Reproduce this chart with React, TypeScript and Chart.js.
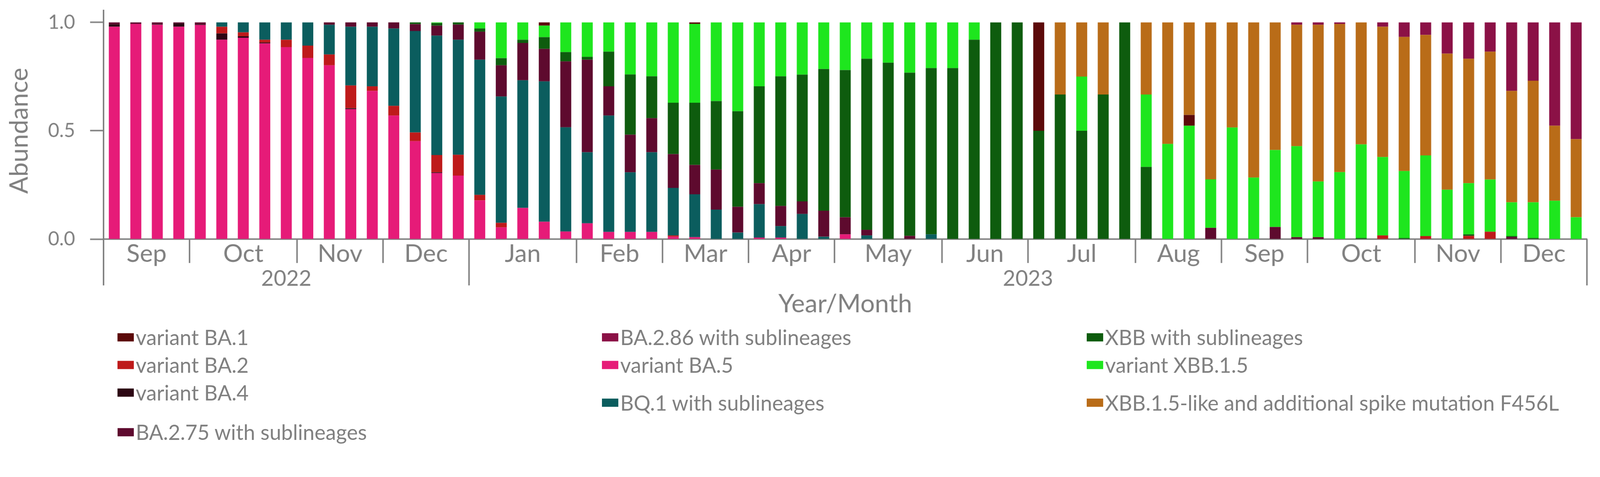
import React, { useEffect, useRef } from "react";
import { Chart, registerables } from "chart.js";

Chart.register(...registerables);

// ---------- categories (weekly samples, Monday of each week) ----------
const WEEKS: string[] = [
  "2022-09-05", "2022-09-12", "2022-09-19", "2022-09-26",
  "2022-10-03", "2022-10-10", "2022-10-17", "2022-10-24", "2022-10-31",
  "2022-11-07", "2022-11-14", "2022-11-21", "2022-11-28",
  "2022-12-05", "2022-12-12", "2022-12-19", "2022-12-26",
  "2023-01-02", "2023-01-09", "2023-01-16", "2023-01-23", "2023-01-30",
  "2023-02-06", "2023-02-13", "2023-02-20", "2023-02-27",
  "2023-03-06", "2023-03-13", "2023-03-20", "2023-03-27",
  "2023-04-03", "2023-04-10", "2023-04-17", "2023-04-24",
  "2023-05-01", "2023-05-08", "2023-05-15", "2023-05-22", "2023-05-29",
  "2023-06-05", "2023-06-12", "2023-06-19", "2023-06-26",
  "2023-07-03", "2023-07-10", "2023-07-17", "2023-07-24", "2023-07-31",
  "2023-08-07", "2023-08-14", "2023-08-21", "2023-08-28",
  "2023-09-04", "2023-09-11", "2023-09-18", "2023-09-25",
  "2023-10-02", "2023-10-09", "2023-10-16", "2023-10-23", "2023-10-30",
  "2023-11-06", "2023-11-13", "2023-11-20", "2023-11-27",
  "2023-12-04", "2023-12-11", "2023-12-18", "2023-12-25",
];

const MONTH_NAMES = ["Jan", "Feb", "Mar", "Apr", "May", "Jun", "Jul", "Aug", "Sep", "Oct", "Nov", "Dec"];
const Y_TICKS = [0, 0.5, 1.0];
const AXIS_TITLE_X = "Year/Month";
const AXIS_TITLE_Y = "Abundance";

// ---------- series values (one per week, grouped by month in rows) ----------
const BA5 = [
  0.980, 0.993, 0.989, 0.980,
  0.988, 0.920, 0.929, 0.903, 0.886,
  0.836, 0.802, 0.600, 0.684,
  0.570, 0.452, 0.305, 0.293,
  0.179, 0.054, 0.144, 0.080, 0.035,
  0.073, 0.033, 0.033, 0.033,
  0.011, 0.009, 0, 0,
  0.007, 0.007, 0, 0,
  0.022, 0, 0, 0, 0,
  0, 0, 0, 0,
  0, 0, 0, 0, 0,
  0, 0, 0, 0,
  0, 0, 0, 0,
  0, 0, 0, 0, 0,
  0, 0, 0, 0,
  0, 0, 0, 0,
];
const BA4 = [
  0.011, 0, 0.003, 0.016,
  0.003, 0.029, 0.007, 0.004, 0,
  0, 0, 0.004, 0,
  0, 0, 0.003, 0,
  0, 0, 0, 0, 0,
  0, 0, 0, 0,
  0, 0, 0, 0,
  0, 0, 0, 0,
  0, 0, 0, 0, 0,
  0, 0, 0, 0,
  0, 0, 0, 0, 0,
  0, 0, 0, 0,
  0, 0, 0, 0,
  0, 0, 0, 0, 0,
  0, 0, 0, 0,
  0, 0, 0, 0,
];
const BA2 = [
  0, 0, 0, 0,
  0, 0.031, 0.018, 0.013, 0.034,
  0.057, 0.050, 0.105, 0.021,
  0.045, 0.040, 0.080, 0.096,
  0.025, 0.021, 0, 0, 0,
  0, 0, 0, 0,
  0.006, 0, 0, 0,
  0, 0, 0, 0,
  0, 0, 0, 0, 0,
  0, 0, 0, 0,
  0, 0, 0, 0, 0,
  0, 0, 0, 0,
  0, 0, 0, 0,
  0, 0, 0, 0.017, 0,
  0.014, 0, 0.015, 0.034,
  0, 0, 0, 0,
];
const BQ1 = [
  0, 0, 0, 0,
  0, 0.020, 0.046, 0.080, 0.080,
  0.107, 0.137, 0.271, 0.275,
  0.357, 0.468, 0.551, 0.531,
  0.624, 0.583, 0.589, 0.648, 0.481,
  0.328, 0.537, 0.275, 0.368,
  0.219, 0.198, 0.136, 0.030,
  0.154, 0.053, 0.116, 0.011,
  0, 0.017, 0, 0, 0.022,
  0, 0, 0, 0,
  0, 0, 0, 0, 0,
  0, 0, 0, 0,
  0, 0, 0, 0,
  0, 0, 0, 0, 0,
  0, 0, 0, 0,
  0, 0, 0, 0,
];
const BA275 = [
  0.009, 0.007, 0.008, 0.004,
  0.009, 0, 0, 0, 0,
  0, 0.011, 0.020, 0.020,
  0.028, 0.032, 0.046, 0.070,
  0.129, 0.144, 0.172, 0.150, 0.304,
  0.427, 0.135, 0.174, 0.157,
  0.156, 0.135, 0.185, 0.119,
  0.097, 0.093, 0.058, 0.120,
  0.079, 0.026, 0, 0.015, 0,
  0, 0, 0, 0,
  0, 0, 0, 0, 0,
  0, 0, 0, 0.052,
  0, 0, 0.056, 0.009,
  0.009, 0, 0, 0, 0,
  0, 0, 0, 0,
  0.010, 0, 0, 0,
];
const XBB = [
  0, 0, 0, 0,
  0, 0, 0, 0, 0,
  0, 0, 0, 0,
  0, 0.008, 0.012, 0.010,
  0.015, 0.033, 0.015, 0.054, 0.043,
  0.013, 0.160, 0.278, 0.193,
  0.237, 0.287, 0.316, 0.441,
  0.447, 0.598, 0.585, 0.654,
  0.679, 0.789, 0.814, 0.753, 0.767,
  0.789, 0.920, 1, 1,
  0.5, 0.667, 0.5, 0.667, 1,
  0.333, 0, 0, 0,
  0, 0, 0, 0,
  0, 0, 0.005, 0, 0.005,
  0, 0, 0.007, 0,
  0.004, 0.005, 0, 0,
];
const XBB15 = [
  0, 0, 0, 0,
  0, 0, 0, 0, 0,
  0, 0, 0, 0,
  0, 0, 0.003, 0,
  0.028, 0.165, 0.080, 0.053, 0.137,
  0.159, 0.135, 0.240, 0.249,
  0.371, 0.364, 0.363, 0.410,
  0.295, 0.249, 0.241, 0.215,
  0.220, 0.168, 0.186, 0.232, 0.211,
  0.211, 0.080, 0, 0,
  0, 0, 0.25, 0, 0,
  0.334, 0.439, 0.523, 0.224,
  0.515, 0.284, 0.355, 0.420,
  0.257, 0.309, 0.432, 0.362, 0.309,
  0.372, 0.228, 0.236, 0.241,
  0.156, 0.165, 0.177, 0.101,
];
const BA1 = [
  0, 0, 0, 0,
  0, 0, 0, 0, 0,
  0, 0, 0, 0,
  0, 0, 0, 0,
  0, 0, 0, 0.015, 0,
  0, 0, 0, 0,
  0, 0.007, 0, 0,
  0, 0, 0, 0,
  0, 0, 0, 0, 0,
  0, 0, 0, 0,
  0.5, 0, 0, 0, 0,
  0, 0, 0.050, 0,
  0, 0, 0, 0,
  0, 0, 0, 0, 0,
  0, 0, 0, 0,
  0, 0, 0, 0,
];
const F456L = [
  0, 0, 0, 0,
  0, 0, 0, 0, 0,
  0, 0, 0, 0,
  0, 0, 0, 0,
  0, 0, 0, 0, 0,
  0, 0, 0, 0,
  0, 0, 0, 0,
  0, 0, 0, 0,
  0, 0, 0, 0, 0,
  0, 0, 0, 0,
  0, 0.333, 0.25, 0.333, 0,
  0.333, 0.561, 0.427, 0.724,
  0.485, 0.716, 0.589, 0.560,
  0.723, 0.684, 0.563, 0.601, 0.619,
  0.556, 0.628, 0.574, 0.590,
  0.514, 0.561, 0.346, 0.360,
];
const BA286 = [
  0, 0, 0, 0,
  0, 0, 0, 0, 0,
  0, 0, 0, 0,
  0, 0, 0, 0,
  0, 0, 0, 0, 0,
  0, 0, 0, 0,
  0, 0, 0, 0,
  0, 0, 0, 0,
  0, 0, 0, 0, 0,
  0, 0, 0, 0,
  0, 0, 0, 0, 0,
  0, 0, 0, 0,
  0, 0, 0, 0.011,
  0.011, 0.007, 0, 0.020, 0.067,
  0.058, 0.144, 0.168, 0.135,
  0.316, 0.269, 0.477, 0.539,
];

// ---------- series names & colours ----------
const GRAY = "#808080";
const FONT = "Lato";

type Key = "BA1" | "BA2" | "BA4" | "BA275" | "BA286" | "BA5" | "BQ1" | "XBB" | "XBB15" | "F456L";

const NAMES: Record<Key, string> = {
  BA1: "variant BA.1",
  BA2: "variant BA.2",
  BA4: "variant BA.4",
  BA275: "BA.2.75 with sublineages",
  BA286: "BA.2.86 with sublineages",
  BA5: "variant BA.5",
  BQ1: "BQ.1 with sublineages",
  XBB: "XBB with sublineages",
  XBB15: "variant XBB.1.5",
  F456L: "XBB.1.5-like and additional spike mutation F456L",
};
const COLORS: Record<Key, string> = {
  BA1: "#5C0A0A",
  BA2: "#BE1A1A",
  BA4: "#2C0613",
  BA275: "#5E0A2E",
  BA286: "#8B1146",
  BA5: "#E61B78",
  BQ1: "#0B5D5E",
  XBB: "#0E5C0E",
  XBB15: "#1EE61E",
  F456L: "#B96C18",
};
const VALUES: Record<Key, number[]> = { BA1, BA2, BA4, BA275, BA286, BA5, BQ1, XBB, XBB15, F456L };

// stacking order, bottom to top
const STACK_ORDER: Key[] = ["BA5", "BA4", "BA2", "BQ1", "BA275", "XBB", "XBB15", "BA1", "F456L", "BA286"];
// legend, filled column by column
const LEGEND_COLUMNS: Key[][] = [
  ["BA1", "BA2", "BA4", "BA275"],
  ["BA286", "BA5", "BQ1"],
  ["XBB", "XBB15", "F456L"],
];

// ---------- layout (design pixels, 4280 x 1222) ----------
const W = 4280;
const H = 1222;
const PLOT_LEFT = 277;
const PLOT_RIGHT = 4245;
const PLOT_TOP = 28;
const PLOT_BOTTOM = 640;
const Y_MAX = 1.055;
const LEGEND_COL_X = [314, 1610, 2907];
const LEGEND_ROW_Y = [[903, 977, 1051, 1157], [903, 977, 1078], [903, 977, 1078]];

const groupAxisPlugin = {
  id: "groupAxis",
  afterDraw(chart: any) {
    const ctx: CanvasRenderingContext2D = chart.ctx;
    const xs = chart.scales.x;
    const ys = chart.scales.y;
    const { left, right, bottom } = chart.chartArea;
    const n = WEEKS.length;
    const edge = (i: number) =>
      i <= 0 ? left : i >= n ? right : (xs.getPixelForValue(i - 1) + xs.getPixelForValue(i)) / 2;

    const runs = (len: number) => {
      const out: { start: number; end: number; key: string }[] = [];
      WEEKS.forEach((w, i) => {
        const key = w.slice(0, len);
        if (!out.length || out[out.length - 1].key !== key) out.push({ start: i, end: i + 1, key });
        else out[out.length - 1].end = i + 1;
      });
      return out;
    };
    const months = runs(7);
    const years = runs(4);
    const yearStarts = new Set(years.map((y) => y.start));

    ctx.save();
    ctx.strokeStyle = GRAY;
    ctx.lineWidth = 4;
    const sep = (x: number, len: number) => {
      ctx.beginPath();
      ctx.moveTo(x, bottom);
      ctx.lineTo(x, bottom + len);
      ctx.stroke();
    };
    months.forEach((m) => sep(edge(m.start), yearStarts.has(m.start) ? 124 : 64));
    sep(edge(n), 124);

    ctx.fillStyle = GRAY;
    ctx.textAlign = "center";
    ctx.textBaseline = "middle";
    ctx.font = `66px ${FONT}`;
    months.forEach((m) => {
      const name = MONTH_NAMES[parseInt(m.key.slice(5, 7), 10) - 1];
      ctx.fillText(name, (edge(m.start) + edge(m.end)) / 2, bottom + 40);
    });
    ctx.font = `58px ${FONT}`;
    years.forEach((y) => {
      ctx.fillText(y.key, (edge(y.start) + edge(y.end)) / 2, bottom + 106);
    });

    // axis titles
    ctx.font = `68px ${FONT}`;
    ctx.fillText(AXIS_TITLE_X, (left + right) / 2, bottom + 174);
    const yMid = (ys.getPixelForValue(0) + ys.getPixelForValue(1)) / 2;
    ctx.translate(52, yMid);
    ctx.rotate(-Math.PI / 2);
    ctx.fillText(AXIS_TITLE_Y, 0, 0);
    ctx.restore();
  },
};

export default function App() {
  const canvasRef = useRef<HTMLCanvasElement | null>(null);
  const scale = typeof window !== "undefined" && window.innerWidth > 0 ? window.innerWidth / W : 1;

  useEffect(() => {
    document.body.style.margin = "0";
    document.body.style.overflow = "hidden";
    const canvas = canvasRef.current;
    if (!canvas) return;
    const chart = new Chart(canvas, {
      type: "bar",
      data: {
        labels: WEEKS,
        datasets: STACK_ORDER.map((k) => ({
          label: NAMES[k],
          data: VALUES[k],
          backgroundColor: COLORS[k],
          borderWidth: 0,
          barPercentage: 0.51,
          categoryPercentage: 1.0,
        })),
      },
      options: {
        animation: false,
        responsive: false,
        devicePixelRatio: 1,
        layout: { padding: { top: PLOT_TOP, right: W - PLOT_RIGHT, bottom: H - PLOT_BOTTOM, left: 0 } },
        plugins: { legend: { display: false }, tooltip: { enabled: false } },
        scales: {
          x: {
            stacked: true,
            offset: true,
            ticks: { display: false },
            grid: { display: false, drawTicks: false, drawOnChartArea: false },
            border: { display: true, color: GRAY, width: 4 },
            afterFit: (s: any) => {
              s.height = 0;
              s.paddingLeft = 0;
              s.paddingRight = 0;
            },
          },
          y: {
            stacked: true,
            min: 0,
            max: Y_MAX,
            afterBuildTicks: (s: any) => {
              s.ticks = Y_TICKS.map((v) => ({ value: v }));
            },
            ticks: {
              color: GRAY,
              padding: 40,
              font: { family: FONT, size: 52 },
              callback: (v: any) => Number(v).toFixed(1),
            },
            grid: {
              display: true,
              drawOnChartArea: false,
              drawTicks: true,
              tickLength: 36,
              tickColor: GRAY,
              tickWidth: 4,
              color: GRAY,
            },
            border: { display: true, color: GRAY, width: 4 },
            afterFit: (s: any) => {
              s.width = PLOT_LEFT;
              s.paddingTop = 0;
              s.paddingBottom = 0;
            },
          },
        },
      } as any,
      plugins: [groupAxisPlugin],
    });
    return () => chart.destroy();
  }, []);

  return (
    <div style={{ position: "relative", width: W * scale, height: H * scale, overflow: "hidden", background: "#fff" }}>
      <div
        style={{
          position: "absolute",
          left: 0,
          top: 0,
          width: W,
          height: H,
          transform: `scale(${scale})`,
          transformOrigin: "0 0",
        }}
      >
        <canvas ref={canvasRef} width={W} height={H} style={{ position: "absolute", left: 0, top: 0 }} />
        {LEGEND_COLUMNS.map((col, ci) =>
          col.map((k, ri) => (
            <div
              key={k}
              style={{
                position: "absolute",
                left: LEGEND_COL_X[ci],
                top: LEGEND_ROW_Y[ci][ri],
                transform: "translateY(-50%)",
                display: "flex",
                alignItems: "center",
                fontFamily: FONT,
                fontSize: 56,
                color: GRAY,
                whiteSpace: "nowrap",
                lineHeight: 1,
              }}
            >
              <span style={{ display: "inline-block", width: 44, height: 22, background: COLORS[k], marginRight: 5 }} />
              <span>{NAMES[k]}</span>
            </div>
          ))
        )}
      </div>
    </div>
  );
}
